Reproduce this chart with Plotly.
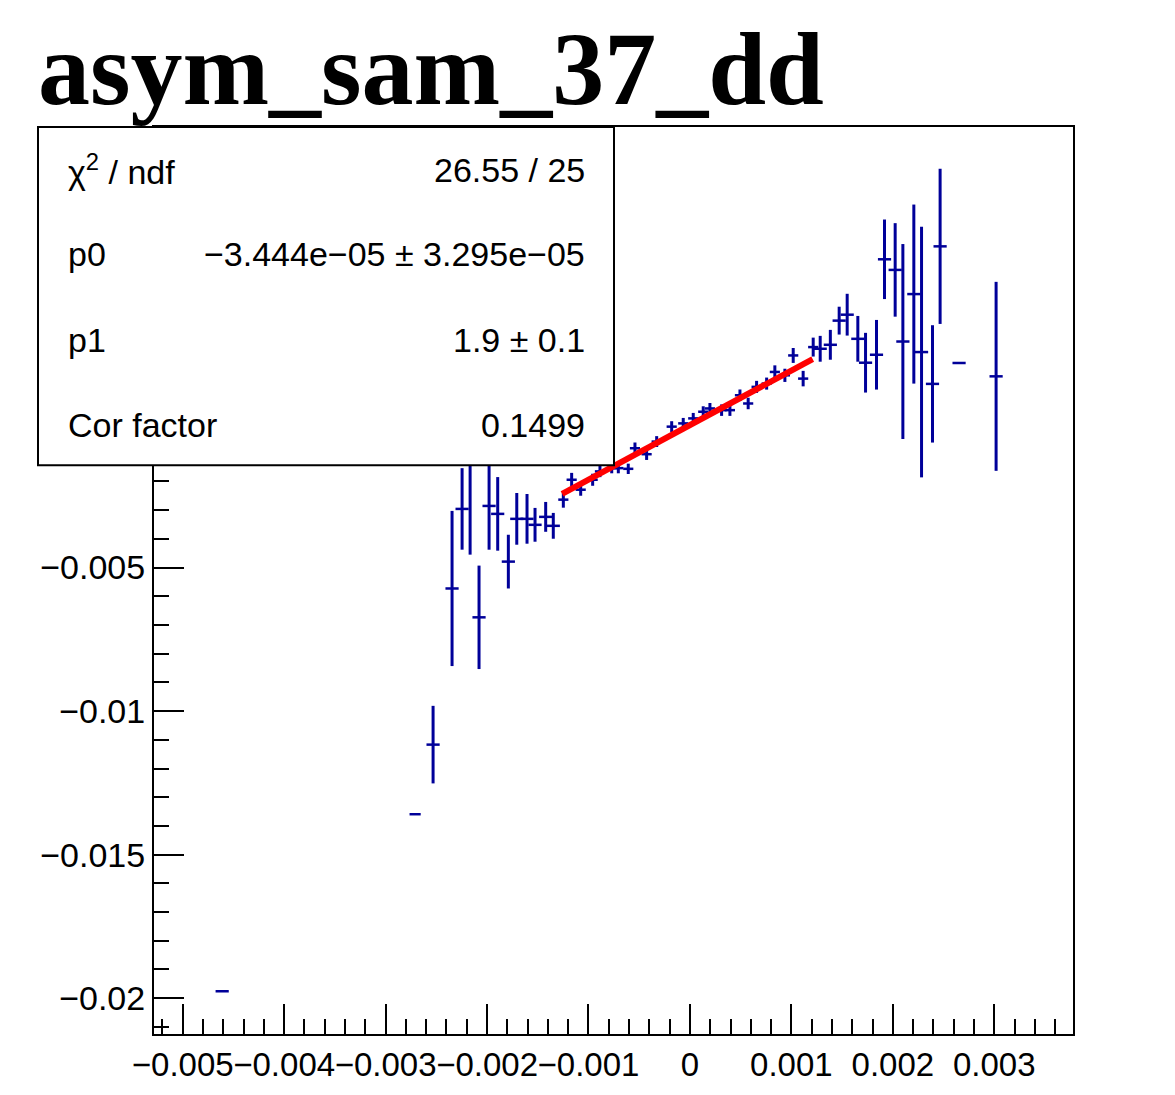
import numpy as np
import plotly.graph_objects as go

# histogram / profile points
x_vals = [-0.004611, -0.002709, -0.002532, -0.002345, -0.002246, -0.002167, -0.002079,
          -0.001980, -0.001895, -0.001790, -0.001707, -0.001606, -0.001527, -0.001422,
          -0.001347,
          -0.001248, -0.001166, -0.001077, -0.000959, -0.000887, -0.000771, -0.000706,
          -0.000608, -0.000542, -0.000427, -0.000328, -0.000180, -0.000066, 0.0000325,
          0.000131, 0.000197, 0.000312, 0.000394, 0.000493, 0.000574, 0.000657,
          0.000756, 0.000837, 0.000936, 0.001018, 0.001116, 0.001215,
          0.001284, 0.001384, 0.001471, 0.001550, 0.001655, 0.001731, 0.001839,
          0.001918, 0.002023, 0.002099, 0.002207, 0.002283, 0.002391, 0.002466,
          0.002653, 0.003018]
y_vals = [-0.019761, -0.013593, -0.011168, -0.005728, -0.002956, -0.001015, -0.006733,
          -0.002852, -0.003129, -0.004792, -0.003302, -0.003302, -0.003510, -0.003233,
          -0.003545,
          -0.002633, -0.001940, -0.002287, -0.001940, -0.001649, -0.001535, -0.001535,
          -0.001559, -0.000842, -0.001050, -0.000610, -0.000090, 0.000024, 0.000198,
          0.000430, 0.000544, 0.000485, 0.000485, 0.001005, 0.000717, 0.001296,
          0.001410, 0.001816, 0.001698, 0.002391, 0.001584, 0.002682,
          0.002623, 0.002762, 0.003604, 0.003811, 0.002970, 0.002138, 0.002415,
          0.005741, 0.005371, 0.002876, 0.004529, 0.002509, 0.001400, 0.006192,
          0.002128, 0.001663]
y_errs = [0.0, 0.0, 0.001351, 0.002703, 0.001420, 0.003534, 0.001802,
          0.001525, 0.001282, 0.000936, 0.000901, 0.000866, 0.000589, 0.000520,
          0.000450,
          0.000280, 0.000240, 0.000210, 0.000210, 0.000200, 0.000180, 0.000180,
          0.000180, 0.000200, 0.000200, 0.000190, 0.000190, 0.000190, 0.000190,
          0.000190, 0.000190, 0.000200, 0.000200, 0.000200, 0.000200, 0.000210,
          0.000210, 0.000230, 0.000230, 0.000260, 0.000270, 0.000330,
          0.000450, 0.000520, 0.000485, 0.000728, 0.000797, 0.001040, 0.001213,
          0.001386, 0.001629, 0.003396, 0.003119, 0.004366, 0.002044, 0.002703,
          0.0, 0.003292]
x_errs = [0.000065, 0.000055, 0.000065, 0.000065, 0.000065, 0.000065, 0.000065,
          0.000065, 0.000065, 0.000065, 0.000065, 0.000065, 0.000065, 0.000065,
          0.000065] + [0.00005] * 27 + [0.000065] * 16

# pol1 fit shown in the stats box
p0 = -3.444e-05
p1 = 1.9
fit_range = [-0.00126, 0.00121]

stats_left = ["χ<sup>2</sup> / ndf", "p0", "p1", "Cor factor"]
stats_right = ["26.55 / 25", "−3.444e−05 ± 3.295e−05", "1.9 ± 0.1", "0.1499"]

title_text = "asym_sam_37_dd"

# page has an 8px body margin, so work in page pixels and shift
OFF = 8
W, H = 1175 - OFF, 1095 - OFF
L, R, T, B = 154 - OFF, 1073 - OFF, 127 - OFF, 1039 - OFF
def px(v):
    return (v - OFF - L) / (R - L)
def py(v):
    return (B - (v - OFF)) / (B - T)

blue = "#000099"

fig = go.Figure()
fig.add_trace(go.Scatter(
    x=x_vals, y=y_vals, mode="markers",
    marker=dict(size=1, color=blue),
    error_y=dict(type="data", array=y_errs, visible=True, color=blue, thickness=3, width=0),
    error_x=dict(type="data", array=x_errs, visible=True, color=blue, thickness=2.5, width=0),
    showlegend=False, hoverinfo="x+y"))

fx = np.array(fit_range)
fig.add_trace(go.Scatter(
    x=fx, y=p0 + p1 * fx, mode="lines",
    line=dict(color="#ff0000", width=6),
    showlegend=False))

font = "Liberation Sans, Arial, sans-serif"

fig.update_layout(
    width=W, height=H, autosize=False,
    margin=dict(l=L, r=W - R, t=T, b=H - B),
    paper_bgcolor="white", plot_bgcolor="white",
    title=dict(text="<b>" + title_text + "</b>", xref="container", yref="container",
               x=(38 - OFF) / W, xanchor="left", y=1 - (68 - OFF) / H, yanchor="middle",
               font=dict(family="Liberation Serif, Times New Roman, serif", size=104, color="black")),
    font=dict(family=font, size=33, color="black"),
)

fig.update_xaxes(
    range=[-0.005283, 0.003776], showgrid=False, zeroline=False,
    showline=True, linecolor="black", linewidth=2, mirror=True,
    ticks="inside", ticklen=30, tickwidth=2, tickcolor="black",
    dtick=0.001, tick0=0, tickangle=0,
    tickfont=dict(family=font, size=33, color="black"),
    minor=dict(ticks="inside", ticklen=15, tickwidth=2, tickcolor="black", dtick=0.0002, showgrid=False),
)
fig.update_yaxes(
    range=[-0.02125, 0.01035], showgrid=False, zeroline=False,
    showline=True, linecolor="black", linewidth=2, mirror=True,
    ticks="inside", ticklen=30, tickwidth=2, tickcolor="black",
    dtick=0.005, tick0=0,
    tickfont=dict(family=font, size=34, color="black"),
    minor=dict(ticks="inside", ticklen=15, tickwidth=2, tickcolor="black", dtick=0.001, showgrid=False),
)

# stats box
fig.add_shape(type="rect", xref="paper", yref="paper",
              x0=px(38), x1=px(614), y0=py(467), y1=py(127),
              fillcolor="white", line=dict(color="black", width=2), layer="above")

rows_y = [170, 255, 341, 427]
for lt, rt, yy in zip(stats_left, stats_right, rows_y):
    fig.add_annotation(xref="paper", yref="paper", x=px(66), y=py(yy),
                       xanchor="left", yanchor="middle", text=lt, showarrow=False,
                       font=dict(family=font, size=34, color="black"))
    fig.add_annotation(xref="paper", yref="paper", x=px(587), y=py(yy),
                       xanchor="right", yanchor="middle", text=rt, showarrow=False,
                       font=dict(family=font, size=34, color="black"))

fig.write_html("out.html")
